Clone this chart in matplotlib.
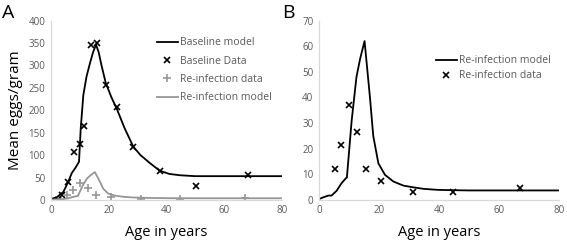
import matplotlib.pyplot as plt

# baseline (panel A)
base_model_age = [0.5, 2, 4.3, 6, 7.2, 8.5, 9.7, 10.3, 11.2, 12.3, 13.5, 14.6, 15.6, 16.5, 17.5, 19, 21, 23, 25.5, 28.5, 31, 34.3, 37.7, 41, 44.7, 50, 60, 70, 80]
base_model_val = [3, 6, 18, 41, 60, 72, 85, 160, 234, 275, 305, 330, 346, 330, 300, 260, 228, 200, 160, 119, 100, 82, 65, 58, 55, 53, 53, 53, 53]
base_data_age = [2.3, 3.9, 6.0, 8.0, 10.0, 11.4, 13.9, 16.0, 19.0, 23.0, 28.5, 37.7, 50.3, 68.2]
base_data_val = [0, 11, 41, 106, 125, 165, 346, 349, 256, 207, 119, 65, 30, 56]

# re-infection (panels A and B)
reinf_model_age = [0, 1.4, 3.1, 4.2, 5.9, 7.5, 9.0, 9.3, 10.9, 12.5, 13.7, 15.2, 17, 18.1, 19.8, 22, 24.8, 28.1, 31, 35, 40, 50, 60, 80]
reinf_model_val = [0.3, 1.0, 1.7, 1.7, 3.6, 6.5, 8.5, 8.7, 31, 48, 55, 62, 40, 25, 14.3, 9.8, 7.2, 5.6, 5.0, 4.3, 3.9, 3.7, 3.7, 3.7]
reinf_data_age = [5.5, 7.5, 10.1, 12.8, 15.6, 20.8, 31.3, 44.7, 67.1]
reinf_data_val = [12.0, 21.6, 37.1, 26.5, 12.0, 7.4, 3.0, 3.0, 4.6]

plt.rcParams['font.family'] = ['Open Sans', 'DejaVu Sans']
tick_col = '#595959'
spine_col = '#d9d9d9'
gray = '#969696'

fig = plt.figure(figsize=(5.67, 2.45), dpi=100)
axA = fig.add_axes([0.090, 0.184, 0.407, 0.732])
axB = fig.add_axes([0.5626, 0.184, 0.423, 0.732])


def style(ax, ymax, ystep):
    ax.set_xlim(0, 80)
    ax.set_ylim(0, ymax)
    ax.set_xticks(range(0, 81, 20))
    ax.set_yticks(range(0, ymax + 1, ystep))
    for s in ['top', 'right']:
        ax.spines[s].set_visible(False)
    for s in ['left', 'bottom']:
        ax.spines[s].set_color(spine_col)
        ax.spines[s].set_linewidth(0.9)
    ax.tick_params(length=0, labelsize=7, colors=tick_col, pad=4)
    ax.set_xlabel('Age in years', fontsize=10.5, labelpad=6)


axA.plot(base_model_age, base_model_val, color='black', lw=1.3, label='Baseline model')
axA.plot(base_data_age, base_data_val, 'x', color='black', ms=5, mew=1.2, label='Baseline Data')
axA.plot(reinf_data_age, reinf_data_val, '+', color=gray, ms=6, mew=1.2, label='Re-infection data')
axA.plot(reinf_model_age, reinf_model_val, color=gray, lw=1.3, label='Re-infection model')
style(axA, 400, 50)
axA.set_ylabel('Mean eggs/gram', fontsize=11, labelpad=4)
legA = axA.legend(loc='upper left', bbox_to_anchor=(0.44, 0.93), frameon=False, fontsize=7.5,
                  handlelength=2.0, handletextpad=0.2, labelspacing=0.7, borderaxespad=0)
for t in legA.get_texts():
    t.set_color(tick_col)

axB.plot(reinf_model_age, reinf_model_val, color='black', lw=1.3, label='Re-infection model')
axB.plot(reinf_data_age, reinf_data_val, 'x', color='black', ms=5, mew=1.2, label='Re-infection data')
style(axB, 70, 10)
legB = axB.legend(loc='upper left', bbox_to_anchor=(0.47, 0.83), frameon=False, fontsize=7.5,
                  handlelength=2.0, handletextpad=0.2, labelspacing=0.4, borderaxespad=0)
for t in legB.get_texts():
    t.set_color(tick_col)

fig.text(0.004, 0.985, 'A', fontsize=14, va='top', ha='left')
fig.text(0.498, 0.985, 'B', fontsize=14, va='top', ha='left')

fig.savefig('out.png', dpi=100)
